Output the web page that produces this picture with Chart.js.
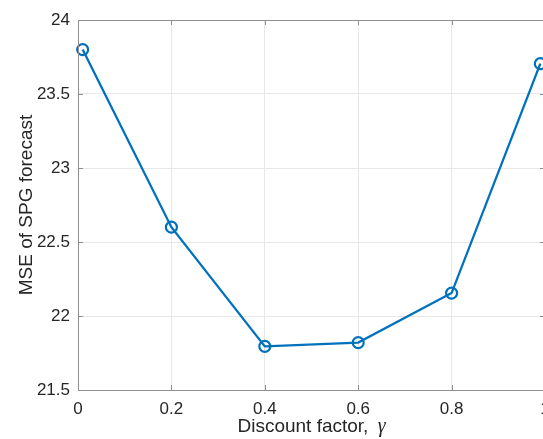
<!DOCTYPE html>
<html><head><meta charset="utf-8">
<script src="https://cdn.jsdelivr.net/npm/chart.js@4/dist/chart.umd.min.js"></script>
<style>
html,body{margin:0;padding:0;overflow:hidden;background:#fff;width:543px;height:439px}
canvas{display:block}
</style></head>
<body><canvas id="c" width="543" height="439" style="width:543px;height:439px"></canvas>
<script>
// Data
const discountFactors = [0.01, 0.2, 0.4, 0.6, 0.8, 0.99];
const mseValues = [23.8, 22.6, 21.795, 21.82, 22.155, 23.705];
const xTicks = [0, 0.2, 0.4, 0.6, 0.8, 1];
const yTicks = [21.5, 22, 22.5, 23, 23.5, 24];
const xTitle = 'Discount factor, ';
const xTitleSymbol = 'γ';
const yTitle = 'MSE of SPG forecast';

const FONT = '"Liberation Sans", Arial, Helvetica, sans-serif';
const TEXT = '#262626';
const AXIS = '#8f8f8f';
const GRID = '#e8e8e8';

// The reference axes box extends slightly past the right edge of the image (x = 1 sits just off-canvas)
const X_VISIBLE_MAX = 465 / 467;

const framePlugin = {
  id: 'frame',
  afterDatasetsDraw(chart) {
    const {ctx, chartArea: a, scales: {x, y}} = chart;
    const rightEdge = x.getPixelForValue(1);
    ctx.save();
    ctx.strokeStyle = AXIS;
    ctx.lineWidth = 1;
    ctx.beginPath();
    ctx.moveTo(a.left + 0.5, a.top + 0.5);
    ctx.lineTo(rightEdge, a.top + 0.5);
    ctx.moveTo(a.left + 0.5, a.top);
    ctx.lineTo(a.left + 0.5, a.bottom);
    ctx.moveTo(a.left, a.bottom + 0.5);
    ctx.lineTo(rightEdge, a.bottom + 0.5);
    ctx.moveTo(rightEdge - 0.5, a.top);
    ctx.lineTo(rightEdge - 0.5, a.bottom);
    const tl = 5;
    xTicks.forEach(v => {
      const px = Math.round(x.getPixelForValue(v)) + 0.5;
      ctx.moveTo(px, a.bottom); ctx.lineTo(px, a.bottom - tl);
      ctx.moveTo(px, a.top); ctx.lineTo(px, a.top + tl);
    });
    yTicks.forEach(v => {
      const py = Math.round(y.getPixelForValue(v)) + 0.5;
      ctx.moveTo(a.left, py); ctx.lineTo(a.left + tl, py);
      ctx.moveTo(rightEdge, py); ctx.lineTo(rightEdge - tl, py);
    });
    ctx.stroke();
    ctx.restore();
  },
  afterDraw(chart) {
    const {ctx, chartArea: a, scales: {x}} = chart;
    ctx.save();
    ctx.fillStyle = TEXT;
    const f1 = '19px ' + FONT;
    const f2 = 'italic 20px "Liberation Serif", "Times New Roman", serif';
    ctx.font = f1;
    const w1 = ctx.measureText(xTitle).width;
    ctx.font = f2;
    const w2 = ctx.measureText(xTitleSymbol).width;
    const cx = (a.left + x.getPixelForValue(1)) / 2;
    let sx = cx - (w1 + 4 + w2) / 2;
    ctx.textBaseline = 'alphabetic';
    ctx.textAlign = 'left';
    ctx.font = f1;
    ctx.fillText(xTitle, sx, 432);
    ctx.font = f2;
    ctx.fillText(xTitleSymbol, sx + w1 + 4, 432);
    ctx.translate(32, (a.top + a.bottom) / 2);
    ctx.rotate(-Math.PI / 2);
    ctx.font = '19px ' + FONT;
    ctx.textAlign = 'center';
    ctx.fillText(yTitle, 0, 0);
    ctx.restore();
  }
};

new Chart(document.getElementById('c'), {
  type: 'line',
  data: {
    datasets: [{
      data: discountFactors.map((v, i) => ({x: v, y: mseValues[i]})),
      borderColor: '#0072BD',
      backgroundColor: 'rgba(0,0,0,0)',
      borderWidth: 2.3,
      pointRadius: 5.5,
      pointBorderWidth: 2.2,
      pointBorderColor: '#0072BD',
      pointBackgroundColor: 'rgba(0,0,0,0)',
      tension: 0,
      clip: false
    }]
  },
  options: {
    responsive: false,
    animation: false,
    events: [],
    layout: {autoPadding: false, padding: {top: 20, right: 0, left: 0, bottom: 0}},
    plugins: {legend: {display: false}, tooltip: {enabled: false}},
    scales: {
      x: {
        type: 'linear', min: 0, max: X_VISIBLE_MAX,
        afterBuildTicks: s => { s.ticks = xTicks.map(v => ({value: v})); },
        afterFit: s => { s.height = 49; s.paddingRight = 0; s.paddingLeft = 0; },
        border: {display: false},
        grid: {color: GRID, drawTicks: false, lineWidth: 1},
        ticks: {padding: 9, color: TEXT, font: {family: FONT, size: 17}, maxRotation: 0,
          callback: v => String(v)}
      },
      y: {
        type: 'linear', min: 21.5, max: 24,
        afterBuildTicks: s => { s.ticks = yTicks.map(v => ({value: v})); },
        afterFit: s => { s.width = 78; },
        border: {display: false},
        grid: {color: GRID, drawTicks: false, lineWidth: 1},
        ticks: {padding: 8, color: TEXT, font: {family: FONT, size: 17},
          callback: v => String(v)}
      }
    }
  },
  plugins: [framePlugin]
});
</script>
</body></html>
